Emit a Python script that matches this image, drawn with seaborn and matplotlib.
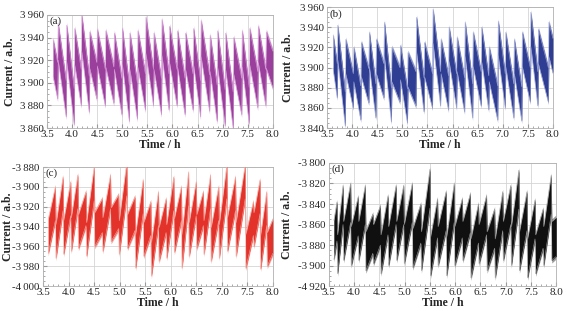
import numpy as np
import pandas as pd
import matplotlib
matplotlib.use("Agg")
import matplotlib.pyplot as plt
from matplotlib.ticker import MultipleLocator
import seaborn as sns

# --- data (jump times in h, values in a.b.) ---
# (a) and (b): slow decreasing ramps, sharp jump up (pre = trough, post = peak)
a_jump_t = [3.71, 3.88, 4.04, 4.18, 4.34, 4.49, 4.66, 4.83, 4.99, 5.14, 5.30, 5.46, 5.62,
            5.78, 5.93, 6.09, 6.25, 6.41, 6.56, 6.74, 6.89, 7.05, 7.21, 7.38, 7.53, 7.70, 7.86]
a_pre = [3886, 3870, 3863, 3880, 3874, 3886, 3880, 3882, 3872, 3866, 3868, 3876, 3880,
         3872, 3876, 3880, 3872, 3876, 3870, 3875, 3866, 3862, 3860, 3872, 3864, 3878, 3880]
a_post = [3952, 3951, 3948, 3960, 3945, 3947, 3946, 3944, 3948, 3944, 3946, 3958, 3944,
          3956, 3950, 3946, 3944, 3948, 3955, 3942, 3946, 3944, 3940, 3946, 3948, 3950, 3945]
a_start = (3.62, 3922)
a_end = (8.0, 3912)

b_jump_t = [3.70, 3.86, 4.02, 4.17, 4.33, 4.47, 4.63, 4.78, 4.95, 5.10, 5.27, 5.43, 5.60,
            5.76, 5.92, 6.08, 6.24, 6.40, 6.57, 6.72, 6.90, 7.05, 7.22, 7.38, 7.55, 7.70, 7.91]
b_pre = [3870, 3842, 3860, 3848, 3865, 3850, 3870, 3846, 3866, 3845, 3862, 3856, 3860,
         3862, 3858, 3860, 3856, 3850, 3862, 3858, 3848, 3860, 3850, 3847, 3866, 3862, 3866]
b_post = [3942, 3928, 3920, 3925, 3935, 3928, 3945, 3920, 3922, 3915, 3950, 3925, 3958,
          3928, 3940, 3930, 3945, 3935, 3940, 3920, 3946, 3935, 3928, 3935, 3955, 3938, 3945]
b_start = (3.62, 3915)
b_end = (8.0, 3912)

# (c) and (d): slow increasing ramps, sharp drop (pre = peak, post = trough)
c_jump_t = [3.74, 3.89, 4.04, 4.18, 4.34, 4.50, 4.66, 4.82, 4.98, 5.14, 5.30, 5.46, 5.61, 5.76,
            5.91, 6.06, 6.21, 6.35, 6.50, 6.64, 6.78, 6.94, 7.10, 7.27, 7.46, 7.62, 7.75, 7.88]
c_pre = [-3900, -3890, -3895, -3888, -3905, -3880, -3912, -3888, -3908, -3875, -3910, -3893, -3915, -3905,
         -3912, -3890, -3900, -3885, -3895, -3905, -3888, -3900, -3878, -3890, -3878, -3915, -3893, -3905]
c_post = [-3972, -3968, -3965, -3962, -3970, -3960, -3965, -3955, -3968, -3962, -3982, -3970, -3990, -3975,
          -3972, -3966, -3982, -3970, -3962, -3968, -3975, -3972, -3965, -3970, -3982, -3960, -3983, -3980]
c_start = (3.60, -3950)
c_end = (8.0, -3950)

d_jump_t = [3.66, 3.78, 3.93, 4.08, 4.22, 4.37, 4.52, 4.67, 4.83, 4.98, 5.15, 5.32, 5.50, 5.65,
            5.82, 5.98, 6.14, 6.30, 6.46, 6.62, 6.78, 6.94, 7.10, 7.26, 7.42, 7.58, 7.74, 7.90]
d_pre = [-3838, -3822, -3820, -3833, -3822, -3850, -3842, -3832, -3822, -3822, -3820, -3840, -3806, -3835,
         -3828, -3820, -3835, -3830, -3840, -3832, -3845, -3828, -3822, -3807, -3828, -3836, -3845, -3812]
d_post = [-3908, -3895, -3900, -3895, -3905, -3898, -3908, -3900, -3895, -3898, -3902, -3905, -3910, -3900,
          -3910, -3900, -3895, -3912, -3898, -3905, -3912, -3895, -3900, -3905, -3912, -3908, -3900, -3895]
d_start = (3.60, -3875)
d_end = (8.0, -3872)

x_ticks = [3.5, 4.0, 4.5, 5.0, 5.5, 6.0, 6.5, 7.0, 7.5, 8.0]
a_yticks = [3860, 3880, 3900, 3920, 3940, 3960]
b_yticks = [3840, 3860, 3880, 3900, 3920, 3940, 3960]
c_yticks = [-4000, -3980, -3960, -3940, -3920, -3900, -3880]
d_yticks = [-3920, -3900, -3880, -3860, -3840, -3820, -3800]
d_ylabels = ["-4\u2009920", "-3\u2009900", "-3\u2009880", "-3\u2009860", "-3\u2009840", "-3\u2009820", "-3\u2009800"]


def build_band(start, jump_t, pre, post, end, w, dt=0.012):
    # envelope vertices of the noisy band (lo .. lo+w along each ramp)
    x, lo = [start[0]], [start[1] - w / 2]
    for t, p, q in zip(jump_t, pre, post):
        up = q > p
        x += [t, t + dt]
        lo += [p if up else p - w, q - w if up else q]
    x.append(end[0])
    lo.append(end[1] - w / 2)
    lo = np.array(lo)
    return pd.DataFrame({"t": x, "lo": lo, "hi": lo + w})


def fmt(v):
    s = f"{abs(v)}"
    s = s[0] + "\u2009" + s[1:]
    return ("-" if v < 0 else "") + s


sns.set_style("whitegrid", {"grid.color": "#d4d4d4", "axes.edgecolor": "#b0b0b0"})
plt.rcParams["font.family"] = ["Liberation Serif", "DejaVu Serif"]

fig = plt.figure(figsize=(5.67, 3.11), dpi=100)
panels = [
    ("(a)", [0.083, 0.588, 0.398, 0.364], a_start, a_jump_t, a_pre, a_post, a_end, 32,
     "#9b3f9d", "#d49ad5", (3860, 3960), a_yticks, [fmt(v) for v in a_yticks], -0.164),
    ("(b)", [0.577, 0.588, 0.398, 0.389], b_start, b_jump_t, b_pre, b_post, b_end, 34,
     "#2f3e92", "#9aa2d2", (3840, 3960), b_yticks, [fmt(v) for v in b_yticks], -0.173),
    ("(c)", [0.076, 0.080, 0.405, 0.383], c_start, c_jump_t, c_pre, c_post, c_end, 34,
     "#e2322a", "#f5a39b", (-4000, -3880), c_yticks, [fmt(v) for v in c_yticks], -0.152),
    ("(d)", [0.580, 0.080, 0.401, 0.396], d_start, d_jump_t, d_pre, d_post, d_end, 38,
     "#101010", "#9a9a9a", (-3920, -3800), d_yticks, d_ylabels, -0.182),
]

for tag, rect, st, jt, pr, po, en, w, col, light, ylim, yt, ylab, ylx in panels:
    ax = fig.add_axes(rect)
    df = build_band(st, jt, pr, po, en, w)
    ax.fill_between(df["t"], df["lo"] - 2.5, df["hi"] + 2.5, color=light, lw=0, zorder=2)
    ax.fill_between(df["t"], df["lo"], df["hi"], color=col, lw=0, zorder=3)
    sns.lineplot(data=df, x="t", y="hi", ax=ax, color=light, lw=0.4, zorder=4)
    sns.lineplot(data=df, x="t", y="lo", ax=ax, color=light, lw=0.4, zorder=4)
    ax.set_xlim(3.5, 8.0)
    ax.set_ylim(*ylim)
    ax.set_xticks(x_ticks)
    ax.set_xticklabels([f"{v:.1f}" for v in x_ticks], fontsize=8)
    ax.set_yticks(yt)
    ax.set_yticklabels(ylab, fontsize=7.8)
    ax.xaxis.set_minor_locator(MultipleLocator(0.1))
    ax.yaxis.set_minor_locator(MultipleLocator(5))
    ax.tick_params(which="both", direction="in", color="#9a9a9a",
                   bottom=True, left=True, top=False, right=False)
    ax.tick_params(axis="x", pad=1.5)
    ax.tick_params(axis="y", pad=2.5)
    ax.tick_params(which="major", length=3)
    ax.tick_params(which="minor", length=1.5)
    ax.grid(True, which="major", color="#d4d4d4", lw=0.6)
    for s in ax.spines.values():
        s.set_color("#b0b0b0")
        s.set_linewidth(0.6)
    ax.set_xlabel("Time / h", fontsize=8.5, fontweight="bold", labelpad=0)
    ax.set_ylabel("Current / a.b.", fontsize=8.5, fontweight="bold", va="center")
    ax.yaxis.set_label_coords(ylx, 0.5)
    ax.text(0.012, 0.985, tag, transform=ax.transAxes, fontsize=8, va="top", ha="left", zorder=5)

fig.savefig("out.png", dpi=100, facecolor="white")
